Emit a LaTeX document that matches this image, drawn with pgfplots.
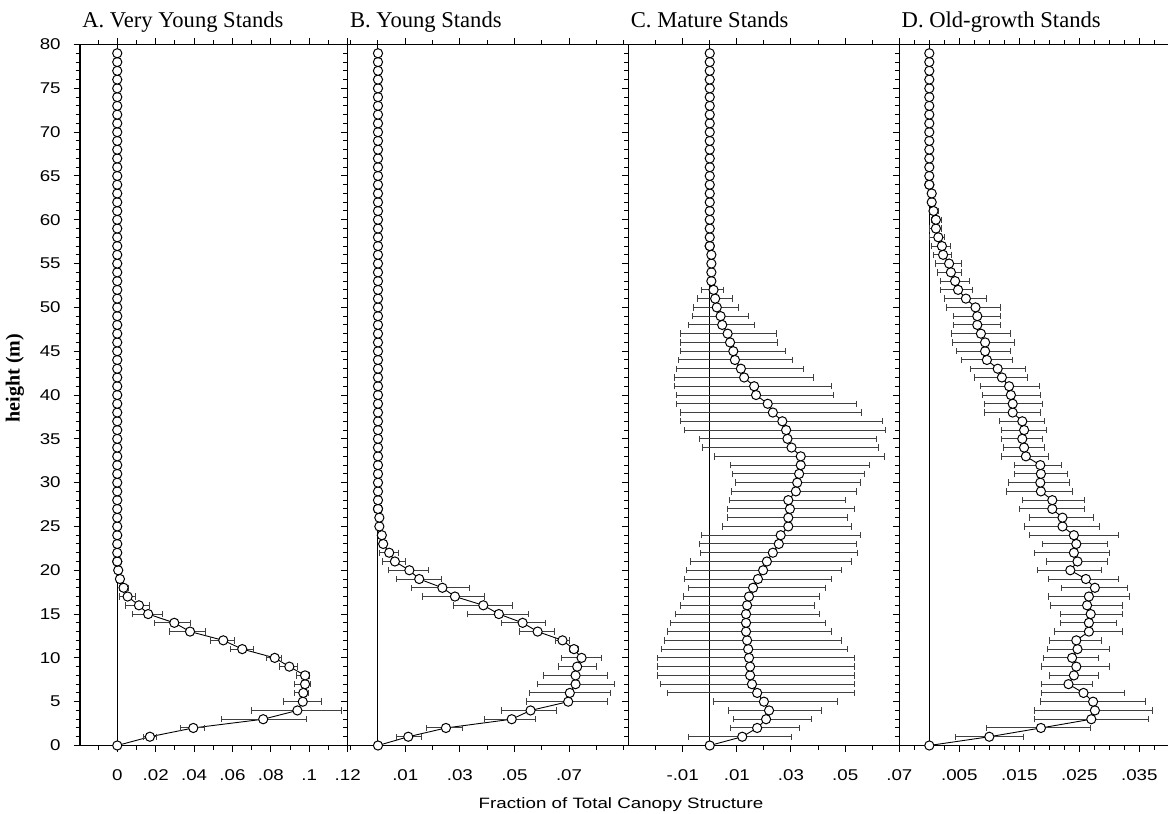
\documentclass[border=0pt]{standalone}
\usepackage{fontspec}
\setmainfont{Liberation Serif}
\newfontfamily\tickf[FakeStretch=1.2]{Liberation Sans}
\newfontfamily\fracf[FakeStretch=1.25]{Liberation Sans}
\usepackage{pgfplots}
\usepackage{pgfplotstable}
\pgfplotsset{compat=1.18}

% h = height (m), v = mean fraction, lo/hi = error bar ends
\pgfplotstableread{
h v lo hi
0 0 0 0
1 0.0170 0.0135 0.0205
2 0.0396 0.0327 0.0452
3 0.0760 0.0544 0.0983
4 0.0938 0.0700 0.1169
5 0.0966 0.0865 0.1061
6 0.0969 0.0925 0.0995
7 0.0978 0.0925 0.1007
8 0.0978 0.0934 0.1000
9 0.0896 0.0847 0.0938
10 0.0820 0.0778 0.0856
11 0.0651 0.0590 0.0708
12 0.0552 0.0483 0.0608
13 0.0379 0.0274 0.0462
14 0.0297 0.0196 0.0384
15 0.0161 0.0080 0.0236
16 0.0113 0.0044 0.0167
17 0.0054 0.0010 0.0097
18 0.0033 0.0010 0.0060
19 0.0014 0.0005 0.0025
20 0.0005 0.0005 0.0005
21 0 0 0
}\tA

\pgfplotstableread{
h v lo hi
0 0 0 0
1 0.0111 0.0068 0.0158
2 0.0249 0.0178 0.0310
3 0.0490 0.0392 0.0579
4 0.0559 0.0454 0.0655
5 0.0697 0.0545 0.0840
6 0.0703 0.0557 0.0853
7 0.0724 0.0585 0.0868
8 0.0724 0.0606 0.0840
9 0.0730 0.0660 0.0799
10 0.0746 0.0673 0.0819
11 0.0718 0.0700 0.0736
12 0.0676 0.0650 0.0700
13 0.0585 0.0520 0.0646
14 0.0530 0.0453 0.0612
15 0.0443 0.0329 0.0551
16 0.0386 0.0276 0.0493
17 0.0282 0.0164 0.0389
18 0.0236 0.0121 0.0337
19 0.0151 0.0068 0.0231
20 0.0115 0.0038 0.0184
21 0.0062 0.0017 0.0099
22 0.0041 0.0007 0.0074
23 0.0019 0.0019 0.0019
24 0.0014 0.0014 0.0014
25 0.0005 0.0005 0.0005
26 0.0005 0.0005 0.0005
27 0 0 0
}\tB

\pgfplotstableread{
h v lo hi
0 0 0 0
1 0.0120 -0.0079 0.0303
2 0.0175 0.0075 0.0333
3 0.0208 0.0086 0.0377
4 0.0219 0.0068 0.0414
5 0.0200 0.0013 0.0472
6 0.0175 -0.0156 0.0535
7 0.0156 -0.0182 0.0535
8 0.0149 -0.0193 0.0535
9 0.0149 -0.0193 0.0535
10 0.0145 -0.0193 0.0535
11 0.0142 -0.0178 0.0509
12 0.0138 -0.0167 0.0487
13 0.0134 -0.0156 0.0450
14 0.0134 -0.0145 0.0428
15 0.0134 -0.0127 0.0406
16 0.0138 -0.0108 0.0388
17 0.0145 -0.0097 0.0406
18 0.0160 -0.0079 0.0428
19 0.0178 -0.0094 0.0450
20 0.0197 -0.0086 0.0487
21 0.0211 -0.0072 0.0524
22 0.0233 -0.0035 0.0546
23 0.0255 -0.0037 0.0541
24 0.0262 -0.0030 0.0556
25 0.0290 0.0048 0.0523
26 0.0290 0.0066 0.0510
27 0.0296 0.0066 0.0533
28 0.0290 0.0073 0.0501
29 0.0318 0.0079 0.0541
30 0.0323 0.0094 0.0556
31 0.0330 0.0085 0.0572
32 0.0336 0.0078 0.0590
33 0.0336 0.0017 0.0645
34 0.0302 -0.0025 0.0624
35 0.0287 -0.0039 0.0617
36 0.0282 -0.0094 0.0650
37 0.0268 -0.0108 0.0638
38 0.0233 -0.0108 0.0562
39 0.0214 -0.0123 0.0541
40 0.0171 -0.0123 0.0458
41 0.0164 -0.0131 0.0450
42 0.0127 -0.0131 0.0382
43 0.0115 -0.0123 0.0348
44 0.0093 -0.0114 0.0306
45 0.0087 -0.0107 0.0279
46 0.0075 -0.0107 0.0252
47 0.0066 -0.0107 0.0246
48 0.0046 -0.0080 0.0167
49 0.0040 -0.0065 0.0143
50 0.0026 -0.0060 0.0106
51 0.0020 -0.0045 0.0085
52 0.0014 -0.0032 0.0050
53 0.0006 -0.0005 0.0015
54 0.0006 0.0006 0.0006
55 0.0006 0.0006 0.0006
56 0.0006 0.0006 0.0006
57 0 0 0
}\tC

\pgfplotstableread{
h v lo hi
0 0 0 0
1 0.0100 0.0044 0.0157
2 0.0186 0.0096 0.0269
3 0.0270 0.0175 0.0365
4 0.0276 0.0175 0.0372
5 0.0273 0.0185 0.0360
6 0.0257 0.0187 0.0325
7 0.0232 0.0187 0.0272
8 0.0241 0.0200 0.0282
9 0.0245 0.0187 0.0300
10 0.0238 0.0190 0.0282
11 0.0247 0.0197 0.0300
12 0.0245 0.0200 0.0287
13 0.0266 0.0208 0.0322
14 0.0266 0.0218 0.0312
15 0.0269 0.0218 0.0322
16 0.0263 0.0202 0.0322
17 0.0266 0.0198 0.0333
18 0.0276 0.0221 0.0330
19 0.0261 0.0198 0.0315
20 0.0235 0.0180 0.0287
21 0.0247 0.0196 0.0297
22 0.0241 0.0176 0.0300
23 0.0245 0.0189 0.0297
24 0.0241 0.0167 0.0315
25 0.0222 0.0158 0.0283
26 0.0222 0.0167 0.0273
27 0.0205 0.0151 0.0258
28 0.0205 0.0155 0.0258
29 0.0186 0.0129 0.0239
30 0.0185 0.0132 0.0233
31 0.0186 0.0142 0.0230
32 0.0185 0.0142 0.0221
33 0.0161 0.0120 0.0198
34 0.0158 0.0123 0.0192
35 0.0155 0.0120 0.0189
36 0.0158 0.0120 0.0195
37 0.0155 0.0117 0.0192
38 0.0139 0.0092 0.0186
39 0.0139 0.0092 0.0189
40 0.0136 0.0088 0.0186
41 0.0133 0.0086 0.0183
42 0.0121 0.0076 0.0163
43 0.0114 0.0069 0.0161
44 0.0096 0.0054 0.0138
45 0.0093 0.0045 0.0135
46 0.0093 0.0038 0.0142
47 0.0086 0.0037 0.0135
48 0.0080 0.0041 0.0119
49 0.0080 0.0041 0.0119
50 0.0077 0.0029 0.0119
51 0.0061 0.0025 0.0095
52 0.0048 0.0019 0.0072
53 0.0043 0.0019 0.0067
54 0.0036 0.0013 0.0053
55 0.0033 0.0010 0.0053
56 0.0023 0.0007 0.0037
57 0.0021 0.0004 0.0035
58 0.0015 0.0000 0.0025
59 0.0011 0.0001 0.0021
60 0.0011 0.0004 0.0021
61 0.0007 0.0001 0.0015
62 0.0004 0.0004 0.0004
63 0.0004 0.0004 0.0004
64 0 0 0
}\tD

% heights at which every panel is zero
\pgfplotstableread{
h v
0 0
1 0
2 0
3 0
4 0
5 0
6 0
7 0
8 0
9 0
10 0
11 0
12 0
13 0
14 0
15 0
16 0
17 0
18 0
19 0
20 0
21 0
22 0
23 0
24 0
25 0
26 0
27 0
28 0
29 0
30 0
31 0
32 0
33 0
34 0
35 0
36 0
37 0
38 0
39 0
40 0
41 0
42 0
43 0
44 0
45 0
46 0
47 0
48 0
49 0
50 0
51 0
52 0
53 0
54 0
55 0
56 0
57 0
58 0
59 0
60 0
61 0
62 0
63 0
64 0
65 0
66 0
67 0
68 0
69 0
70 0
71 0
72 0
73 0
74 0
75 0
76 0
77 0
78 0
79 0
}\tZ

\pgfplotsset{
  panel/.style={
    scale only axis, height=350.5pt, ymin=0, ymax=80,
    anchor=south west, clip=false,
    scaled x ticks=false, scaled y ticks=false,
    axis line style={line width=0.6pt},
    tick align=outside, xtick pos=both, ytick pos=left, xticklabel pos=lower,
    ytick={0,5,...,80}, minor ytick={0,1,...,80},
    major tick length=3.2pt, minor tick length=2.2pt,
    tick style={black, line width=0.5pt},
    tick label style={font=\tickf\fontsize{7.8}{9}\selectfont},
    xticklabel style={anchor=north, inner sep=0pt, yshift=-8.6pt},
    yticklabel style={anchor=east, inner sep=0pt, xshift=-6.3pt},
    /pgf/number format/assume math mode=true,
    title style={at={(0,1)}, anchor=base west, yshift=2.75pt, xshift=1pt,
      inner sep=0pt, font=\fontsize{11.3}{13}\selectfont},
  },
  dat/.style={black, line width=0.45pt, mark=*, mark size=2.3pt,
    mark options={fill=white, draw=black, line width=0.5pt},
    error bars/.cd, x dir=both, x explicit,
    error bar style={black!75, line width=0.5pt},
    error mark options={black!75, line width=0.5pt, mark size=1.6pt, rotate=90}},
  zer/.style={only marks, mark=*, mark size=2.3pt,
    mark options={fill=white, draw=black, line width=0.5pt}},
  zline/.style={black, line width=0.5pt},
}

\begin{document}
\begin{tikzpicture}
\path[use as bounding box] (0,0) rectangle (584pt,407pt);

% A
\begin{axis}[panel, at={(40pt,34.25pt)}, width=133.85pt,
  xmin=-0.0194, xmax=0.12,
  xtick={0,0.02,0.04,0.06,0.08,0.1,0.12},
  xticklabels={0,.02,.04,.06,.08,.1,.12},
  minor xtick={-0.01,0.01,0.03,0.05,0.07,0.09,0.11},
  title={A. Very Young Stands}]
\addplot[zline] coordinates {(0,0) (0,80)};
\addplot[dat] table[x=v, y=h, x error plus expr=\thisrow{hi}-\thisrow{v}, x error minus expr=\thisrow{v}-\thisrow{lo}] {\tA};
\addplot[zer] table[x=v, y=h, restrict y to domain=20.5:79.5] {\tZ};
\end{axis}

% B
\begin{axis}[panel, at={(173.85pt,34.25pt)}, width=140.4pt,
  xmin=-0.0111, xmax=0.0918,
  xtick={0.01,0.03,0.05,0.07},
  xticklabels={.01,.03,.05,.07},
  minor xtick={-0.01,0,0.02,0.04,0.06,0.08,0.09},
  yticklabels={},
  title={B. Young Stands}]
\addplot[zline] coordinates {(0,0) (0,80)};
\addplot[dat] table[x=v, y=h, x error plus expr=\thisrow{hi}-\thisrow{v}, x error minus expr=\thisrow{v}-\thisrow{lo}] {\tB};
\addplot[zer] table[x=v, y=h, restrict y to domain=26.5:79.5] {\tZ};
\end{axis}

% C
\begin{axis}[panel, at={(314.25pt,34.25pt)}, width=135.4pt,
  xmin=-0.030, xmax=0.070,
  xtick={-0.01,0.01,0.03,0.05,0.07},
  xticklabels={-.01,.01,.03,.05,.07},
  minor xtick={-0.02,0,0.02,0.04,0.06},
  yticklabels={},
  title={C. Mature Stands}]
\addplot[zline] coordinates {(0,0) (0,80)};
\addplot[dat] table[x=v, y=h, x error plus expr=\thisrow{hi}-\thisrow{v}, x error minus expr=\thisrow{v}-\thisrow{lo}] {\tC};
\addplot[zer] table[x=v, y=h, restrict y to domain=56.5:79.5] {\tZ};
\end{axis}

% D
\begin{axis}[panel, at={(449.65pt,34.25pt)}, width=135pt,
  xmin=-0.005, xmax=0.04,
  xtick={0.005,0.015,0.025,0.035},
  xticklabels={.005,.015,.025,.035},
  minor xtick={-0.0025,0,0.0025,0.0075,0.01,0.0125,0.0175,0.02,0.0225,0.0275,0.03,0.0325,0.0375},
  yticklabels={},
  title={D. Old-growth Stands}]
\addplot[zline] coordinates {(0,0) (0,80)};
\addplot[dat] table[x=v, y=h, x error plus expr=\thisrow{hi}-\thisrow{v}, x error minus expr=\thisrow{v}-\thisrow{lo}] {\tD};
\addplot[zer] table[x=v, y=h, restrict y to domain=63.5:79.5] {\tZ};
\end{axis}

\node[rotate=90, font=\bfseries\fontsize{10}{12}\selectfont] at (7.5pt,218pt) {height (m)};
\node[anchor=base, font=\fracf\fontsize{7.5}{9}\selectfont] at (310.5pt,2.5pt) {Fraction of Total Canopy Structure};
\end{tikzpicture}
\end{document}
